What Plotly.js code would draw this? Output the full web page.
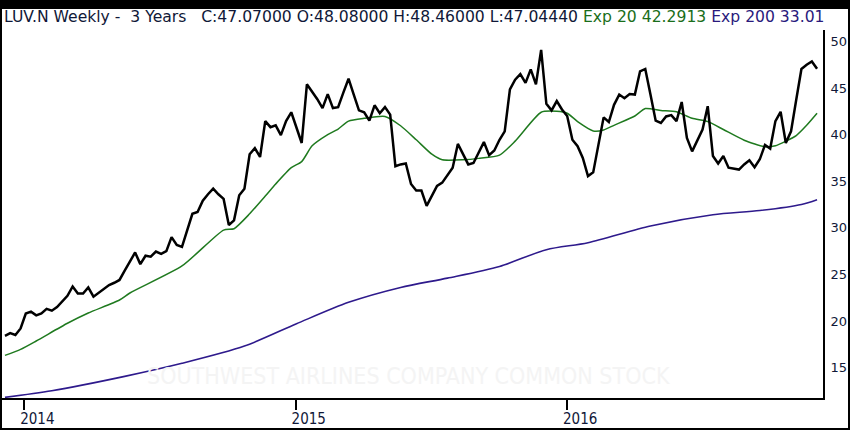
<!DOCTYPE html>
<html>
<head>
<meta charset="utf-8">
<script src="https://cdn.plot.ly/plotly-3.0.1.min.js"></script>
<style>
  html, body { margin: 0; padding: 0; background: #000; width: 850px; height: 430px; overflow: hidden; }
  #chart { position: absolute; left: 2px; top: 9px; width: 846px; height: 419px; background: #fff; }
</style>
</head>
<body>
<div id="chart"></div>
<script>
// Weekly dates (Fridays)
const weeks = [
'2013-12-06','2013-12-13','2013-12-20','2013-12-27',
'2014-01-03','2014-01-10','2014-01-17','2014-01-24','2014-01-31',
'2014-02-07','2014-02-14','2014-02-21','2014-02-28',
'2014-03-07','2014-03-14','2014-03-21','2014-03-28',
'2014-04-04','2014-04-11','2014-04-18','2014-04-25',
'2014-05-02','2014-05-09','2014-05-16','2014-05-23','2014-05-30',
'2014-06-06','2014-06-13','2014-06-20','2014-06-27',
'2014-07-04','2014-07-11','2014-07-18','2014-07-25',
'2014-08-01','2014-08-08','2014-08-15','2014-08-22','2014-08-29',
'2014-09-05','2014-09-12','2014-09-19','2014-09-26',
'2014-10-03','2014-10-10','2014-10-17','2014-10-24','2014-10-31',
'2014-11-07','2014-11-14','2014-11-21','2014-11-28',
'2014-12-05','2014-12-12','2014-12-19','2014-12-26',
'2015-01-02','2015-01-09','2015-01-16','2015-01-23','2015-01-30',
'2015-02-06','2015-02-13','2015-02-20','2015-02-27',
'2015-03-06','2015-03-13','2015-03-20','2015-03-27',
'2015-04-03','2015-04-10','2015-04-17','2015-04-24',
'2015-05-01','2015-05-08','2015-05-15','2015-05-22','2015-05-29',
'2015-06-05','2015-06-12','2015-06-19','2015-06-26',
'2015-07-03','2015-07-10','2015-07-17','2015-07-24','2015-07-31',
'2015-08-07','2015-08-14','2015-08-21','2015-08-28',
'2015-09-04','2015-09-11','2015-09-18','2015-09-25',
'2015-10-02','2015-10-09','2015-10-16','2015-10-23','2015-10-30',
'2015-11-06','2015-11-13','2015-11-20','2015-11-27',
'2015-12-04','2015-12-11','2015-12-18','2015-12-25',
'2016-01-01','2016-01-08','2016-01-15','2016-01-22','2016-01-29',
'2016-02-05','2016-02-12','2016-02-19','2016-02-26',
'2016-03-04','2016-03-11','2016-03-18','2016-03-25',
'2016-04-01','2016-04-08','2016-04-15','2016-04-22','2016-04-29',
'2016-05-06','2016-05-13','2016-05-20','2016-05-27',
'2016-06-03','2016-06-10','2016-06-17','2016-06-24',
'2016-07-01','2016-07-08','2016-07-15','2016-07-22','2016-07-29',
'2016-08-05','2016-08-12','2016-08-19','2016-08-26',
'2016-09-02','2016-09-09','2016-09-16','2016-09-23','2016-09-30',
'2016-10-07','2016-10-14','2016-10-21','2016-10-28',
'2016-11-04','2016-11-11','2016-11-18','2016-11-25',
'2016-12-02'
];

// Weekly close
const closes = [
18.4, 18.7, 18.5, 19.2, 20.8, 21.0, 20.6, 20.8, 21.3, 21.1,
21.5, 22.1, 22.7, 23.7, 22.95, 22.95, 23.6, 22.6, 23.0, 23.4,
23.85, 24.1, 24.4, 25.4, 26.3, 27.35, 26.1, 27.0, 26.9, 27.45,
27.2, 27.5, 29.0, 28.15, 27.95, 29.85, 31.5, 31.7, 32.9, 33.6,
34.2, 33.6, 33.1, 30.3, 30.8, 33.5, 34.2, 37.9, 38.55, 37.6,
41.45, 40.8, 41.0, 39.95, 41.45, 42.4, 40.7, 39.1, 45.4, 44.65,
43.8, 42.85, 44.35, 42.85, 42.95, 44.5, 46.0, 44.3, 42.6, 42.4,
41.5, 43.15, 42.3, 42.95, 42.15, 36.6, 36.8, 36.9, 34.7, 34.0,
34.0, 32.35, 33.4, 34.5, 34.85, 35.6, 36.45, 39.0, 37.9, 36.8,
36.95, 38.1, 39.2, 37.8, 38.3, 39.45, 40.35, 44.85, 45.9, 46.5,
45.55, 47.0, 45.4, 49.1, 43.3, 42.6, 43.6, 42.7, 42.0, 39.45,
38.75, 37.5, 35.55, 35.95, 38.9, 41.85, 41.35, 43.2, 44.3, 43.9,
44.35, 44.3, 46.8, 47.05, 44.3, 41.5, 41.25, 41.95, 42.1, 41.45,
43.5, 39.65, 38.2, 39.45, 40.55, 43.05, 37.7, 36.9, 37.7, 36.45,
36.35, 36.25, 36.8, 37.25, 36.5, 37.35, 38.9, 38.5, 41.45, 42.45,
39.1, 40.35, 43.75, 47.05, 47.5, 47.85, 47.07
];

// Exp 20 (read at selected weeks)
const ema20Week = [0,3,6,12,16,22,24,34,42,44,47,50,52,55,57,59,62,64,66,69,73,76,79,82,84,88,91,95,98,103,106,108,110,113,115,117,121,123,126,129,132,135,138,142,146,148,150,152,154,156];
const ema20Vals = [16.3,16.95,17.85,19.75,20.85,22.25,23.0,25.9,29.75,29.9,31.5,33.4,34.7,36.45,37.1,38.8,40.0,40.6,41.45,41.75,41.95,40.95,39.45,37.9,37.3,37.3,37.45,37.8,39.3,42.4,42.5,42.3,41.4,40.4,40.5,41.0,42.0,42.8,42.6,42.45,41.75,41.4,40.55,39.4,38.7,38.8,39.3,39.9,41.0,42.29];

// Exp 200 (read at selected weeks)
const ema200Week = [0,9,23,34,46,56,66,76,85,95,104,112,124,136,145,153,156];
const ema200Vals = [11.8,12.5,14.05,15.45,17.3,19.7,22.0,23.6,24.6,25.85,27.65,28.4,30.2,31.4,31.85,32.5,33.01];

const yTicks = [15,20,25,30,35,40,45,50];
const xTickVals = ['2014-01-01','2015-01-01','2016-01-01'];
const xTickText = ['2014','2015','2016'];

const headerMain = 'LUV.N Weekly -  3 Years   C:47.07000 O:48.08000 H:48.46000 L:47.04440 ';
const header20 = 'Exp 20 42.2913';
const header200 = 'Exp 200 33.01';
const watermark = 'SOUTHWEST AIRLINES COMPANY COMMON STOCK';

const traces = [
  {
    x: ema200Week.map(i => weeks[i]), y: ema200Vals, type: 'scatter', mode: 'lines',
    line: {color: '#2e1a8c', width: 1.6, shape: 'spline', smoothing: 0.8}, hoverinfo: 'skip'
  },
  {
    x: ema20Week.map(i => weeks[i]), y: ema20Vals, type: 'scatter', mode: 'lines',
    line: {color: '#1f7a1f', width: 1.5, shape: 'spline', smoothing: 0.6}, hoverinfo: 'skip'
  },
  {
    x: weeks, y: closes, type: 'scatter', mode: 'lines',
    line: {color: '#000000', width: 2.5}, hoverinfo: 'skip'
  }
];

const layout = {
  width: 846, height: 419,
  margin: {l: 0, r: 25, t: 21, b: 30, pad: 0},
  paper_bgcolor: '#ffffff', plot_bgcolor: '#ffffff',
  showlegend: false,
  xaxis: {
    type: 'date', range: ['2013-12-02', '2016-12-10'],
    showgrid: false, zeroline: false,
    showline: true, linecolor: '#000', linewidth: 2,
    ticks: 'outside', ticklen: 10, tickwidth: 2, tickcolor: '#000',
    tickvals: xTickVals, ticktext: xTickText,
    ticklabelshift: 13, ticklabelstandoff: -4,
    tickfont: {family: 'DejaVu Sans Condensed, Liberation Sans Narrow, sans-serif', size: 15, color: '#101838'}
  },
  yaxis: {
    side: 'right', range: [11.73, 51.23],
    showgrid: false, zeroline: false,
    showline: true, linecolor: '#000', linewidth: 2,
    ticks: '', tickvals: yTicks, ticktext: yTicks.map(String),
    ticklabelstandoff: 3,
    tickfont: {family: 'DejaVu Sans, sans-serif', size: 13, color: '#101838'}
  },
  annotations: [
    {
      xref: 'paper', yref: 'paper', x: 0, y: 1, xanchor: 'left', yanchor: 'middle',
      xshift: 0, yshift: 13, showarrow: false, align: 'left',
      text: '<span style="color:#101838">' + headerMain.replace(/ /g, '&nbsp;') + '</span>' +
            '<span style="color:#1a6e1a">' + header20.replace(/ /g, '&nbsp;') + '</span>' +
            '<span style="color:#2a1a7c">&nbsp;' + header200.replace(/ /g, '&nbsp;') + '</span>',
      font: {family: 'DejaVu Sans, sans-serif', size: 15.6, color: '#101838'}
    },
    {
      xref: 'paper', yref: 'paper', x: 0.495, y: 0.06, xanchor: 'center', yanchor: 'middle',
      showarrow: false, text: watermark,
      font: {family: 'DejaVu Sans Condensed, Liberation Sans Narrow, sans-serif', size: 23, color: '#f4f4f4'}
    }
  ]
};

Plotly.newPlot('chart', traces, layout, {displayModeBar: false, staticPlot: true});
</script>
</body>
</html>
